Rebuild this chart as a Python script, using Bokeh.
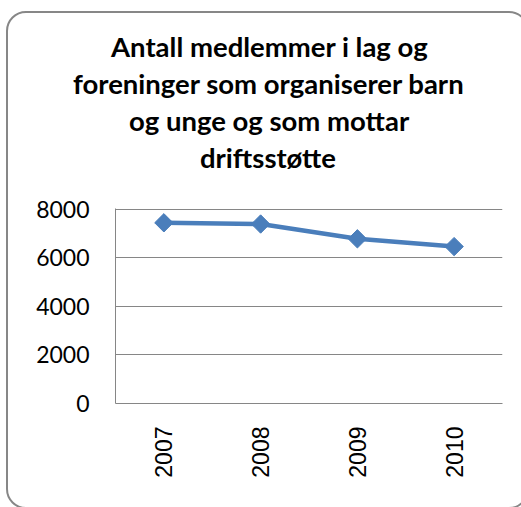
import numpy as np
from bokeh.plotting import figure
from bokeh.models import Range1d, FixedTicker, Title, InlineStyleSheet
from bokeh.embed import file_html
from bokeh.resources import INLINE

years = ["2007", "2008", "2009", "2010"]
members = [7450, 7400, 6790, 6470]
y_ticks = [0, 2000, 4000, 6000, 8000]
title_lines = ["Antall medlemmer i lag og",
               "foreninger som organiserer barn",
               "og unge og som mottar",
               "driftsstøtte"]
# left offsets (px from plot-area left) so that each line is centred on the chart box
title_offsets = [-4.5, -42.5, 13.5, 84.5]

GRAY = "#868686"
BLUE = "#4A7EBB"
TITLE_FONT = dict(text_font="Lato", text_font_style="bold",
                  text_font_size="27.5px", text_color="black")

p = figure(width=521, height=507, x_range=years, y_range=Range1d(0, 8040),
           output_backend="svg", toolbar_location=None,
           min_border_left=115, min_border_right=19,
           min_border_top=208, min_border_bottom=104)
p.background_fill_color = "white"
p.border_fill_color = "white"
p.outline_line_color = None

p.line(years, members, line_color=BLUE, line_width=4.5)
p.scatter(years, members, marker="square", angle=np.pi / 4, size=13,
          fill_color=BLUE, line_color=BLUE)

p.xgrid.grid_line_color = None
p.ygrid.grid_line_color = GRAY
p.ygrid.grid_line_width = 1

p.yaxis.ticker = FixedTicker(ticks=y_ticks)
p.yaxis.major_tick_out = 0
p.yaxis.major_tick_in = 0
p.yaxis.minor_tick_line_color = None
p.yaxis.axis_line_color = GRAY
p.yaxis.major_label_standoff = 26
p.yaxis.major_label_text_font = "Lato"
p.yaxis.major_label_text_font_size = "23px"
p.yaxis.major_label_text_color = "black"

p.xaxis.major_tick_out = 0
p.xaxis.major_tick_in = 0
p.xaxis.axis_line_color = GRAY
p.xaxis.major_label_orientation = np.pi / 2
p.xaxis.major_label_standoff = 23
p.xaxis.major_label_text_font = "Liberation Sans"
p.xaxis.major_label_text_font_size = "23px"
p.xaxis.major_label_text_color = "black"

p.title = None
# spacer between the title block and the plot area
p.add_layout(Title(text=" ", align="left", standoff=4, text_font="Lato",
                   text_font_size="23px"), "above")
# later additions sit further from the plot area, so add bottom line first
for i in range(len(title_lines) - 1, -1, -1):
    p.add_layout(Title(text=title_lines[i], align="left", offset=title_offsets[i],
                       standoff=2, **TITLE_FONT), "above")

# rounded chart border (drawn with CSS over the canvas)
p.stylesheets = [InlineStyleSheet(css="""
:host { overflow: hidden; position: relative; }
:host::after {
  content: "";
  position: absolute;
  left: 6px; top: 11px;
  width: 523px; height: 498px;
  box-sizing: border-box;
  border: 2px solid #878787;
  border-radius: 20px;
  pointer-events: none;
  z-index: 10;
}
""")]

open("out.html", "w").write(file_html(p, INLINE))
